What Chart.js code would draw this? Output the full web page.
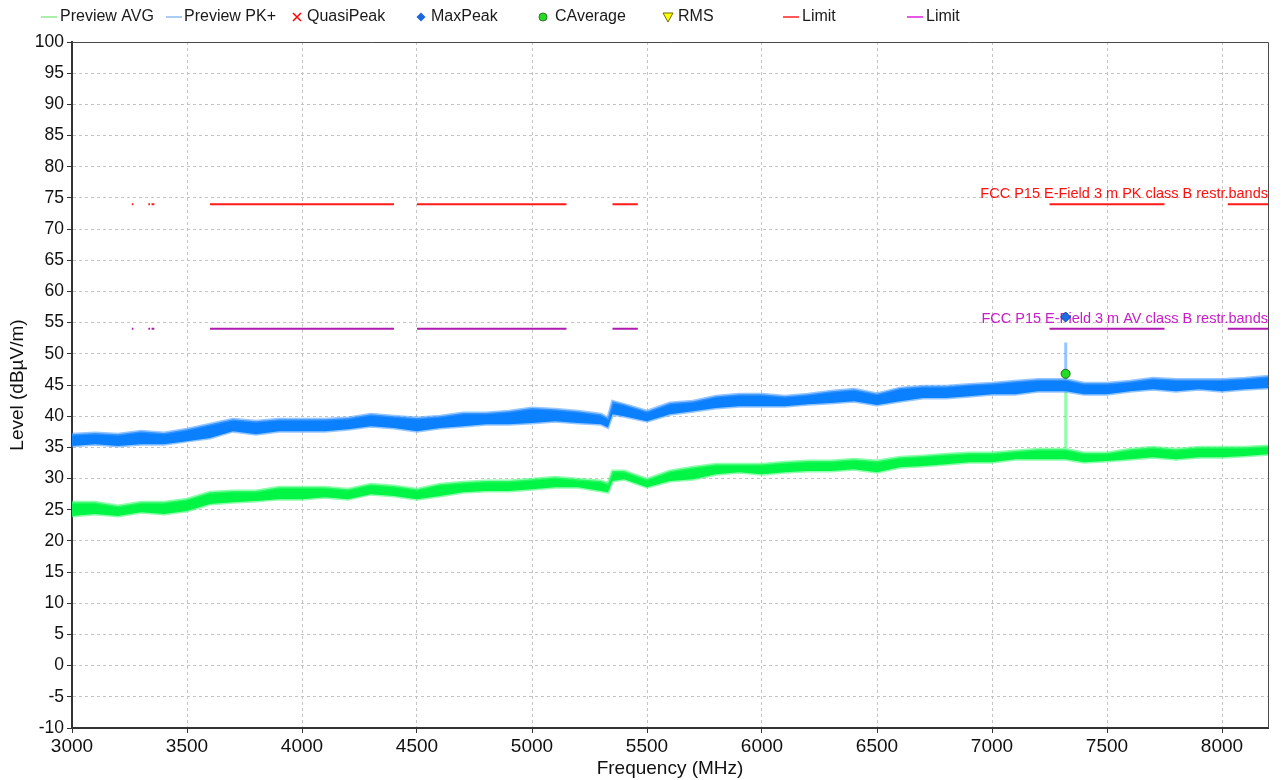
<!DOCTYPE html>
<html lang="en">
<head>
    <meta charset="UTF-8">
    <title>Radiated Emissions 3 - 8.2 GHz</title>
    <script src="https://cdn.jsdelivr.net/npm/chart.js"></script>
    <style>
        body {
            margin: 0;
            background: #ffffff;
        }
        #scan {
            display: block;
        }
    </style>
</head>
<body>
    <canvas id="scan" width="1285" height="780"></canvas>
    <script>
        // sweep points (MHz)
        const freqMHz = [3000, 3100, 3200, 3300, 3400, 3500, 3600, 3700, 3800, 3900,
            4000, 4100, 4200, 4300, 4400, 4500, 4600, 4700, 4800, 4900,
            5000, 5100, 5200, 5300, 5330, 5350, 5400, 5500, 5600, 5700,
            5800, 5900, 6000, 6100, 6200, 6300, 6400, 6500, 6600, 6700,
            6800, 6900, 7000, 7100, 7200, 7300, 7319, 7320, 7321, 7400,
            7500, 7600, 7700, 7800, 7900, 8000, 8100, 8200];

        // Preview PK+ trace, upper / lower edge of the noise band (dBuV/m)
        const pkHigh = [37.1, 37.3, 37.1, 37.6, 37.3, 37.9, 38.7, 39.5, 39.2, 39.5,
            39.5, 39.5, 39.7, 40.3, 40.0, 39.7, 40.0, 40.5, 40.5, 40.8,
            41.3, 41.1, 40.8, 40.3, 39.7, 42.4, 41.9, 40.8, 42.1, 42.4,
            43.2, 43.5, 43.5, 43.2, 43.5, 44.0, 44.3, 43.6, 44.5, 44.8,
            44.8, 45.1, 45.3, 45.6, 45.9, 45.9, 45.9, 51.8, 45.9, 45.3,
            45.3, 45.6, 46.1, 45.9, 45.9, 45.9, 46.1, 46.4];
        const pkLow = [35.2, 35.5, 35.2, 35.5, 35.5, 36.0, 36.5, 37.6, 37.1, 37.6,
            37.6, 37.6, 37.9, 38.4, 38.1, 37.6, 38.1, 38.4, 38.7, 38.7,
            38.9, 39.2, 38.9, 38.7, 38.2, 40.3, 40.0, 39.2, 40.3, 40.8,
            41.3, 41.6, 41.6, 41.6, 41.9, 42.1, 42.4, 41.8, 42.4, 42.9,
            42.9, 43.2, 43.5, 43.5, 44.0, 44.0, 44.0, 44.0, 44.0, 43.5,
            43.5, 44.0, 44.3, 44.0, 44.3, 44.0, 44.3, 44.5];

        // Preview AVG trace
        const avgHigh = [26.2, 26.2, 25.6, 26.2, 26.2, 26.7, 27.8, 28.0, 28.0, 28.6,
            28.6, 28.6, 28.3, 29.1, 28.8, 28.3, 29.1, 29.4, 29.6, 29.6,
            29.9, 30.2, 29.9, 29.6, 29.2, 31.2, 31.2, 29.9, 31.2, 31.8,
            32.3, 32.3, 32.3, 32.6, 32.8, 32.8, 33.1, 32.8, 33.4, 33.6,
            33.9, 34.1, 34.1, 34.4, 34.7, 34.7, 34.7, 46.8, 34.7, 34.1,
            34.1, 34.7, 35.0, 34.7, 35.0, 35.0, 35.0, 35.2];
        const avgLow = [24.0, 24.3, 24.0, 24.6, 24.3, 24.8, 25.9, 26.2, 26.4, 26.7,
            26.7, 27.0, 26.7, 27.5, 27.2, 26.7, 27.2, 27.8, 28.0, 28.0,
            28.3, 28.6, 28.6, 28.0, 27.8, 29.6, 29.9, 28.6, 29.6, 29.9,
            30.7, 31.0, 30.7, 31.0, 31.2, 31.2, 31.5, 31.0, 31.8, 32.0,
            32.3, 32.6, 32.6, 33.1, 33.1, 33.1, 33.1, 33.1, 33.1, 32.6,
            32.8, 33.1, 33.4, 33.1, 33.4, 33.4, 33.6, 33.9];

        // FCC 15.205 restricted bands inside the span (MHz)
        const restrictedBands = [[3260, 3267], [3332, 3339], [3345.8, 3358], [3600, 4400],
            [4500, 5150], [5350, 5460], [7250, 7750], [8025, 8500]];
        const pkLimit = 74;
        const avLimit = 54;
        const pkLimitName = 'FCC P15 E-Field 3 m PK class B restr.bands';
        const avLimitName = 'FCC P15 E-Field 3 m AV class B restr.bands';

        // final measurement results
        const maxPeakFreq = [7320];
        const maxPeakLevel = [55.9];
        const cAvgFreq = [7320];
        const cAvgLevel = [46.8];

        const freqTicks = [3000, 3500, 4000, 4500, 5000, 5500, 6000, 6500, 7000, 7500, 8000];

        const FONT = "'Liberation Sans', Arial, sans-serif";

        function toPoints(xs, ys) {
            return xs.map((x, i) => ({ x: x, y: ys[i] }));
        }

        function limitPoints(level) {
            return restrictedBands.flatMap(([a, b]) => [
                { x: a, y: level }, { x: b, y: level }, { x: b, y: null }
            ]);
        }

        const legendItems = [
            { mark: 'line', color: '#8fe88f', x: 41, tx: 60, text: 'Preview AVG' },
            { mark: 'line', color: '#8cbcf0', x: 166, tx: 184, text: 'Preview PK+' },
            { mark: 'cross', color: '#ff0000', x: 297, tx: 307, text: 'QuasiPeak' },
            { mark: 'diamond', color: '#1a66dd', x: 421, tx: 431, text: 'MaxPeak' },
            { mark: 'dot', color: '#22dd22', x: 543, tx: 555, text: 'CAverage' },
            { mark: 'tri', color: '#ffff00', x: 668, tx: 678, text: 'RMS' },
            { mark: 'line', color: '#ff2020', x: 783, tx: 802, text: 'Limit' },
            { mark: 'line', color: '#dd22dd', x: 907, tx: 926, text: 'Limit' }
        ];

        const legendPlugin = {
            id: 'scanLegend',
            afterDraw(chart) {
                const ctx = chart.ctx;
                const y = 17;
                ctx.save();
                ctx.font = '16px ' + FONT;
                ctx.textBaseline = 'middle';
                legendItems.forEach(item => {
                    ctx.strokeStyle = item.color;
                    ctx.fillStyle = item.color;
                    ctx.lineWidth = 1.5;
                    if (item.mark === 'line') {
                        ctx.beginPath();
                        ctx.moveTo(item.x, y);
                        ctx.lineTo(item.x + 16, y);
                        ctx.stroke();
                    } else if (item.mark === 'cross') {
                        ctx.beginPath();
                        ctx.moveTo(item.x - 4, y - 4);
                        ctx.lineTo(item.x + 4, y + 4);
                        ctx.moveTo(item.x + 4, y - 4);
                        ctx.lineTo(item.x - 4, y + 4);
                        ctx.stroke();
                    } else if (item.mark === 'diamond') {
                        ctx.beginPath();
                        ctx.moveTo(item.x, y - 4.5);
                        ctx.lineTo(item.x + 4.5, y);
                        ctx.lineTo(item.x, y + 4.5);
                        ctx.lineTo(item.x - 4.5, y);
                        ctx.closePath();
                        ctx.fill();
                    } else if (item.mark === 'dot') {
                        ctx.beginPath();
                        ctx.arc(item.x, y, 4, 0, Math.PI * 2);
                        ctx.fill();
                        ctx.strokeStyle = '#2a7a2a';
                        ctx.lineWidth = 1;
                        ctx.stroke();
                    } else if (item.mark === 'tri') {
                        ctx.beginPath();
                        ctx.moveTo(item.x - 5, y - 4);
                        ctx.lineTo(item.x + 5, y - 4);
                        ctx.lineTo(item.x, y + 5);
                        ctx.closePath();
                        ctx.fill();
                        ctx.strokeStyle = '#6b6b00';
                        ctx.lineWidth = 1;
                        ctx.stroke();
                    }
                    ctx.fillStyle = '#1a1a1a';
                    ctx.fillText(item.text, item.tx, y);
                });
                ctx.restore();
            }
        };

        // frame on top/right plus limit names above their lines
        const framePlugin = {
            id: 'scanFrame',
            beforeDatasetsDraw(chart) {
                const ctx = chart.ctx;
                const area = chart.chartArea;
                const yScale = chart.scales.y;
                ctx.save();
                ctx.font = '14.5px ' + FONT;
                ctx.textAlign = 'right';
                ctx.textBaseline = 'alphabetic';
                ctx.fillStyle = '#ff1010';
                ctx.fillText(pkLimitName, area.right, yScale.getPixelForValue(pkLimit) - 6);
                ctx.fillStyle = '#c81ec8';
                ctx.fillText(avLimitName, area.right, yScale.getPixelForValue(avLimit) - 6);
                ctx.restore();
            },
            afterDraw(chart) {
                const ctx = chart.ctx;
                const area = chart.chartArea;
                ctx.save();
                ctx.strokeStyle = '#4a4a4a';
                ctx.lineWidth = 1;
                ctx.beginPath();
                ctx.moveTo(area.left, area.top + 0.5);
                ctx.lineTo(area.right + 0.5, area.top + 0.5);
                ctx.lineTo(area.right + 0.5, area.bottom);
                ctx.stroke();
                ctx.restore();
            }
        };

        // noise band: solid core with a softer fringe along both edges
        const bandStyle = (fillColor, edgeColor) => ({
            borderColor: edgeColor,
            backgroundColor: fillColor,
            borderWidth: 3,
            pointRadius: 0,
            tension: 0
        });

        new Chart(document.getElementById('scan'), {
            type: 'line',
            data: {
                datasets: [
                    {
                        label: 'MaxPeak',
                        data: toPoints(maxPeakFreq, maxPeakLevel),
                        showLine: false,
                        pointStyle: 'rectRot',
                        pointRadius: 5,
                        pointBackgroundColor: '#1a6ee6',
                        pointBorderColor: '#0b3f9a',
                        pointBorderWidth: 1
                    },
                    {
                        label: 'CAverage',
                        data: toPoints(cAvgFreq, cAvgLevel),
                        showLine: false,
                        pointStyle: 'circle',
                        pointRadius: 4.5,
                        pointBackgroundColor: '#22dd22',
                        pointBorderColor: '#1d6b1d',
                        pointBorderWidth: 1
                    },
                    {
                        label: 'Limit PK',
                        data: limitPoints(pkLimit),
                        borderColor: '#ff1a1a',
                        borderWidth: 2,
                        pointRadius: 0,
                        spanGaps: false,
                        fill: false
                    },
                    {
                        label: 'Limit AV',
                        data: limitPoints(avLimit),
                        borderColor: '#b01cb0',
                        borderWidth: 2,
                        pointRadius: 0,
                        spanGaps: false,
                        fill: false
                    },
                    Object.assign({
                        label: 'Preview PK+',
                        data: toPoints(freqMHz, pkHigh),
                        fill: '+1'
                    }, bandStyle('#0a80ff', 'rgba(80, 160, 255, 0.6)')),
                    Object.assign({
                        label: 'Preview PK+ low',
                        data: toPoints(freqMHz, pkLow),
                        fill: false
                    }, bandStyle('#0a80ff', 'rgba(80, 160, 255, 0.6)')),
                    Object.assign({
                        label: 'Preview AVG',
                        data: toPoints(freqMHz, avgHigh),
                        fill: '+1'
                    }, bandStyle('#00f545', 'rgba(70, 250, 120, 0.6)')),
                    Object.assign({
                        label: 'Preview AVG low',
                        data: toPoints(freqMHz, avgLow),
                        fill: false
                    }, bandStyle('#00f545', 'rgba(70, 250, 120, 0.6)'))
                ]
            },
            options: {
                responsive: false,
                animation: false,
                devicePixelRatio: 1,
                events: [],
                layout: {
                    padding: { top: 42, right: 17, left: 0, bottom: 0 }
                },
                plugins: {
                    legend: { display: false },
                    tooltip: { enabled: false }
                },
                scales: {
                    x: {
                        type: 'linear',
                        min: 3000,
                        max: 8200,
                        afterBuildTicks(scale) {
                            scale.ticks = freqTicks.map(v => ({ value: v }));
                        },
                        afterFit(scale) { scale.height = 52; },
                        ticks: {
                            padding: 2,
                            color: '#111111',
                            font: { family: FONT, size: 19 },
                            maxRotation: 0,
                            autoSkip: false,
                            callback: v => String(v)
                        },
                        grid: {
                            color: '#c4c4c4',
                            lineWidth: 1,
                            tickColor: '#333333',
                            tickLength: 5,
                            tickBorderDash: []
                        },
                        border: { color: '#333333', width: 2, dash: [3, 3] },
                        title: {
                            display: true,
                            text: 'Frequency (MHz)',
                            color: '#111111',
                            font: { family: FONT, size: 19 },
                            padding: { top: 1, bottom: 0 }
                        }
                    },
                    y: {
                        min: -10,
                        max: 100,
                        afterFit(scale) { scale.width = 72; },
                        ticks: {
                            stepSize: 5,
                            padding: 3,
                            color: '#111111',
                            font: { family: FONT, size: 17.5 }
                        },
                        grid: {
                            color: '#c4c4c4',
                            lineWidth: 1,
                            tickColor: '#333333',
                            tickLength: 5,
                            tickBorderDash: []
                        },
                        border: { color: '#333333', width: 2, dash: [3, 3] },
                        title: {
                            display: true,
                            text: 'Level (dBµV/m)',
                            color: '#111111',
                            font: { family: FONT, size: 19 },
                            padding: { top: 6, bottom: 0 }
                        }
                    }
                }
            },
            plugins: [legendPlugin, framePlugin]
        });
    </script>
</body>
</html>
